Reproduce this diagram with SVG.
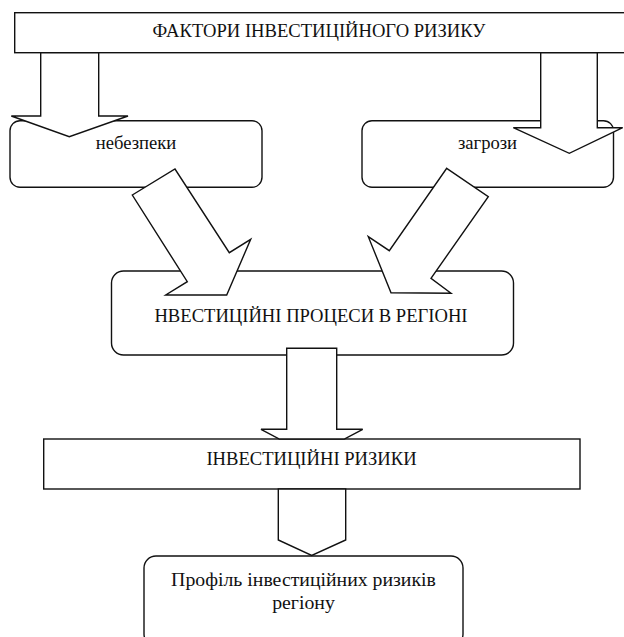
<svg xmlns="http://www.w3.org/2000/svg" width="624" height="637" viewBox="0 0 624 637">
<style>
.box{fill:#fff;stroke:#111;stroke-width:1.4}
.arr{fill:#fff;stroke:#111;stroke-width:1.4;stroke-linejoin:miter}
.t{font-family:"Liberation Serif","DejaVu Serif",serif;font-size:18.6px;fill:#111;text-anchor:middle}
.tb{font-size:19.8px}
</style>
<rect width="624" height="637" fill="#fff"/>
<g id="factors">
<rect class="box" x="14.7" y="12.7" width="620" height="40"/>
<text class="t" x="319" y="37">ФАКТОРИ ІНВЕСТИЦІЙНОГО РИЗИКУ</text>
</g>
<g id="dangers">
<rect class="box" x="10" y="120.7" width="252" height="66.6" rx="10"/>
<text class="t" x="136" y="149">небезпеки</text>
</g>
<g id="threats">
<rect class="box" x="362" y="120.7" width="251.5" height="66.6" rx="10"/>
<text class="t" x="487.5" y="149">загрози</text>
</g>
<g id="processes">
<rect class="box" x="111.5" y="271" width="402" height="84" rx="12"/>
<text class="t" x="311" y="322">НВЕСТИЦІЙНІ ПРОЦЕСИ В РЕГІОНІ</text>
</g>
<g id="risks">
<rect class="box" x="43.7" y="439" width="536.3" height="50"/>
<text class="t" x="311.5" y="464.5">ІНВЕСТИЦІЙНІ РИЗИКИ</text>
</g>
<g id="profile">
<rect class="box" x="144" y="556" width="319" height="90" rx="12"/>
<text class="t tb" x="303.5" y="586">Профіль інвестиційних ризиків</text>
<text class="t tb" x="303.5" y="609">регіону</text>
</g>
<g id="connectors">
<polygon class="arr" points="40.7,52.7 98.7,52.7 98.7,116 128,116 69.3,136.7 11.3,116 40.7,116"/>
<polygon class="arr" points="540.7,52.7 597.3,52.7 597.3,127.7 622.7,127.7 569.3,153.3 513.3,127.7 540.7,127.7"/>
<polygon class="arr" points="132.3,195 175,169 229.3,252.7 250.7,239.3 226.7,295 165.7,295 187.3,281.7"/>
<polygon class="arr" points="446.7,168.3 488.3,196.7 431,278.3 451,293.3 391,292.7 368.3,236.7 389.3,250.7"/>
<polygon class="arr" points="286.7,348.3 336.7,348.3 336.7,429.3 362.7,429.3 344.3,439 279.4,439 261,429.3 286.7,429.3"/>
<polygon class="arr" points="278.3,489 345.7,489 345.7,540 311.7,555.5 278.3,540"/>
</g>
</svg>
